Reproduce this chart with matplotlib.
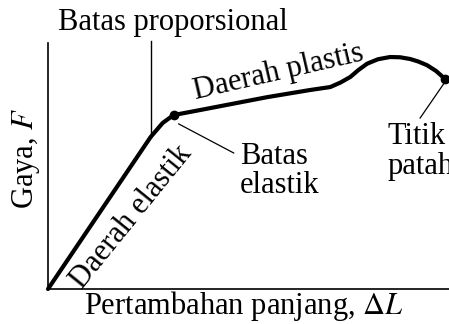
import matplotlib
matplotlib.use('Agg')
import matplotlib.pyplot as plt

plt.rcParams['font.family'] = 'Liberation Serif'
plt.rcParams['mathtext.fontset'] = 'stix'

# stress-strain style curve (arbitrary units, 0-100)
elong = [0, 25.6, 28.6, 31.3, 38.1, 54.7, 65.4, 70.4, 72.9, 75.4, 77.4, 79.6,
         82.3, 85.3, 87.8, 90.3, 92.3, 94.5, 96.8, 99.0]
force = [0, 61.8, 67.5, 70.7, 72.8, 78.0, 80.9, 82.1, 83.9, 86.2, 89.0, 91.6,
         93.4, 94.3, 94.2, 93.5, 92.5, 91.0, 88.6, 85.4]

prop_x = 25.6
elastic_pt = (31.3, 70.7)
break_pt = (99.0, 85.4)

fig = plt.figure(figsize=(4.49, 3.24), dpi=100)
ax = fig.add_axes([48/449, 35/324, 401/449, 246/324])
ax.set_xlim(0, 100)
ax.set_ylim(0, 100)
for s in ['top', 'right']:
    ax.spines[s].set_visible(False)
ax.spines['left'].set_linewidth(1.2)
ax.spines['bottom'].set_linewidth(1.2)
ax.set_xticks([])
ax.set_yticks([])

ax.plot(elong, force, color='black', lw=3, solid_capstyle='round',
        solid_joinstyle='round', clip_on=False)
ax.plot([elastic_pt[0], break_pt[0]], [elastic_pt[1], break_pt[1]], 'o',
        color='black', ms=6, clip_on=False)

# proportional limit line
ax.plot([prop_x, prop_x], [61.8, 100.8], color='black', lw=1, clip_on=False)
# pointer lines
ax.plot([32.6, 46.3], [67.1, 55.3], color='black', lw=0.9)
ax.plot([98.8, 92.8], [83.7, 69.5], color='black', lw=0.9)

fs = 22
ax.text(31.2, 108.5, 'Batas proporsional', fontsize=fs, ha='center', va='center')
ax.text(20.8, 29.3, 'Daerah elastik', fontsize=fs, ha='center', va='center', rotation=51)
ax.text(57.5, 88.0, 'Daerah plastis', fontsize=fs, ha='center', va='center', rotation=13)
ax.text(47.8, 48.0, 'Batas\nelastik', fontsize=fs, ha='left', va='center', linespacing=1.0)
ax.text(84.6, 56.0, 'Titik\npatah', fontsize=fs, ha='left', va='center', linespacing=1.05)
ax.text(-5.5, 53.3, 'Gaya, $F$', fontsize=fs, ha='center', va='center', rotation=90)
ax.text(48.9, -10.0, r'Pertambahan panjang, $\Delta L$', fontsize=fs, ha='center', va='baseline')

fig.savefig('out.png', dpi=100)
